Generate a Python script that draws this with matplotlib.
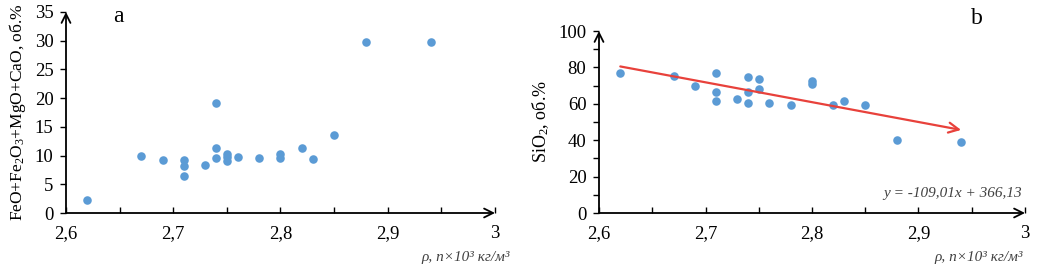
import matplotlib
matplotlib.use("Agg")
import matplotlib.pyplot as plt
from matplotlib.ticker import MultipleLocator

plt.rcParams['font.family'] = ['Liberation Serif', 'DejaVu Serif']
plt.rcParams['mathtext.fontset'] = 'custom'
plt.rcParams['mathtext.rm'] = 'Liberation Serif'
plt.rcParams['mathtext.it'] = 'Liberation Serif:italic'

# ---- data ----
rho_a = [2.62, 2.67, 2.69, 2.71, 2.71, 2.71, 2.73, 2.74, 2.74, 2.74, 2.75,
         2.75, 2.75, 2.76, 2.78, 2.80, 2.80, 2.82, 2.83, 2.85, 2.88, 2.94]
femg_a = [2.3, 9.9, 9.2, 9.2, 8.25, 6.4, 8.4, 19.1, 11.25, 9.5, 10.2,
          9.75, 9.1, 9.7, 9.6, 10.3, 9.6, 11.4, 9.4, 13.5, 29.7, 29.7]

rho_b = [2.62, 2.67, 2.69, 2.71, 2.71, 2.71, 2.73, 2.74, 2.74, 2.74, 2.75,
         2.75, 2.76, 2.78, 2.80, 2.80, 2.82, 2.83, 2.85, 2.88, 2.94]
sio2_b = [76.7, 75.1, 69.6, 76.9, 66.7, 61.8, 62.9, 74.7, 66.5, 60.7, 73.5,
          68.0, 60.2, 59.3, 72.7, 70.9, 59.3, 61.5, 59.5, 40.2, 39.1]

trend_slope = -109.01
trend_intercept = 366.13
trend_x = [2.62, 2.94]

xticks = [2.6, 2.7, 2.8, 2.9, 3.0]
xtick_labels = ['2,6', '2,7', '2,8', '2,9', '3']
yticks_a = [0, 5, 10, 15, 20, 25, 30, 35]
yticks_b = [0, 20, 40, 60, 80, 100]

BLUE = '#5B9BD5'
RED = '#E8413B'
W, H = 1064, 272

fig = plt.figure(figsize=(W / 100, H / 100), dpi=100)
ax1 = fig.add_axes([66 / W, 59 / H, 429 / W, 201 / H])
ax2 = fig.add_axes([599 / W, 59 / H, 426 / W, 182 / H])


def style(ax, ymax, yticks, yminor):
    ax.set_xlim(2.6, 3.0)
    ax.set_ylim(0, ymax)
    for s in ax.spines.values():
        s.set_visible(False)
    ax.set_xticks(xticks)
    ax.set_xticklabels(xtick_labels)
    ax.xaxis.set_minor_locator(MultipleLocator(0.05))
    ax.set_yticks(yticks)
    ax.yaxis.set_minor_locator(MultipleLocator(yminor))
    ax.tick_params(which='both', length=4, width=1, labelsize=13.5,
                   color='black')
    ax.tick_params(axis='x', which='both', direction='in', pad=9)
    ax.tick_params(axis='y', which='both', direction='out', pad=5)
    for xy in [(1.0, 0), (0, 1.0)]:
        ax.annotate('', xy=xy, xytext=(0, 0), xycoords='axes fraction',
                    arrowprops=dict(arrowstyle='->', lw=1.3, color='black',
                                    mutation_scale=16, shrinkA=0, shrinkB=0),
                    annotation_clip=False)


style(ax1, 35, yticks_a, 5)
style(ax2, 100, yticks_b, 10)

ax1.scatter(rho_a, femg_a, s=38, color=BLUE, zorder=3, linewidths=0)
ax2.scatter(rho_b, sio2_b, s=38, color=BLUE, zorder=3, linewidths=0)

y0 = trend_slope * trend_x[0] + trend_intercept
y1 = trend_slope * trend_x[1] + trend_intercept
ax2.annotate('', xy=(trend_x[1], y1), xytext=(trend_x[0], y0),
             arrowprops=dict(arrowstyle='->', lw=1.6, color=RED,
                             mutation_scale=18, shrinkA=0, shrinkB=0),
             zorder=4)

ax1.set_ylabel('FeO+Fe$_2$O$_3$+MgO+CaO, об.%', fontsize=12.5, labelpad=5)
ax2.set_ylabel('SiO$_2$, об.%', fontsize=13, labelpad=5)

xlabel = 'ρ, n×10³ кг/м³'
fig.text(510 / W, 1 - 257 / H, xlabel, fontsize=11, style='italic',
         ha='right', va='center', color='#404040')
fig.text(1023 / W, 1 - 257 / H, xlabel, fontsize=11, style='italic',
         ha='right', va='center', color='#404040')

fig.text(118 / W, 1 - 16 / H, 'a', fontsize=17, ha='center', va='center')
fig.text(977 / W, 1 - 18 / H, 'b', fontsize=17, ha='center', va='center')

ax2.text(1022 / W, 1 - 193 / H, 'y = -109,01x + 366,13',
         transform=fig.transFigure, ha='right', va='center', fontsize=11,
         style='italic', color='#404040')

fig.savefig('out.png', dpi=100)
